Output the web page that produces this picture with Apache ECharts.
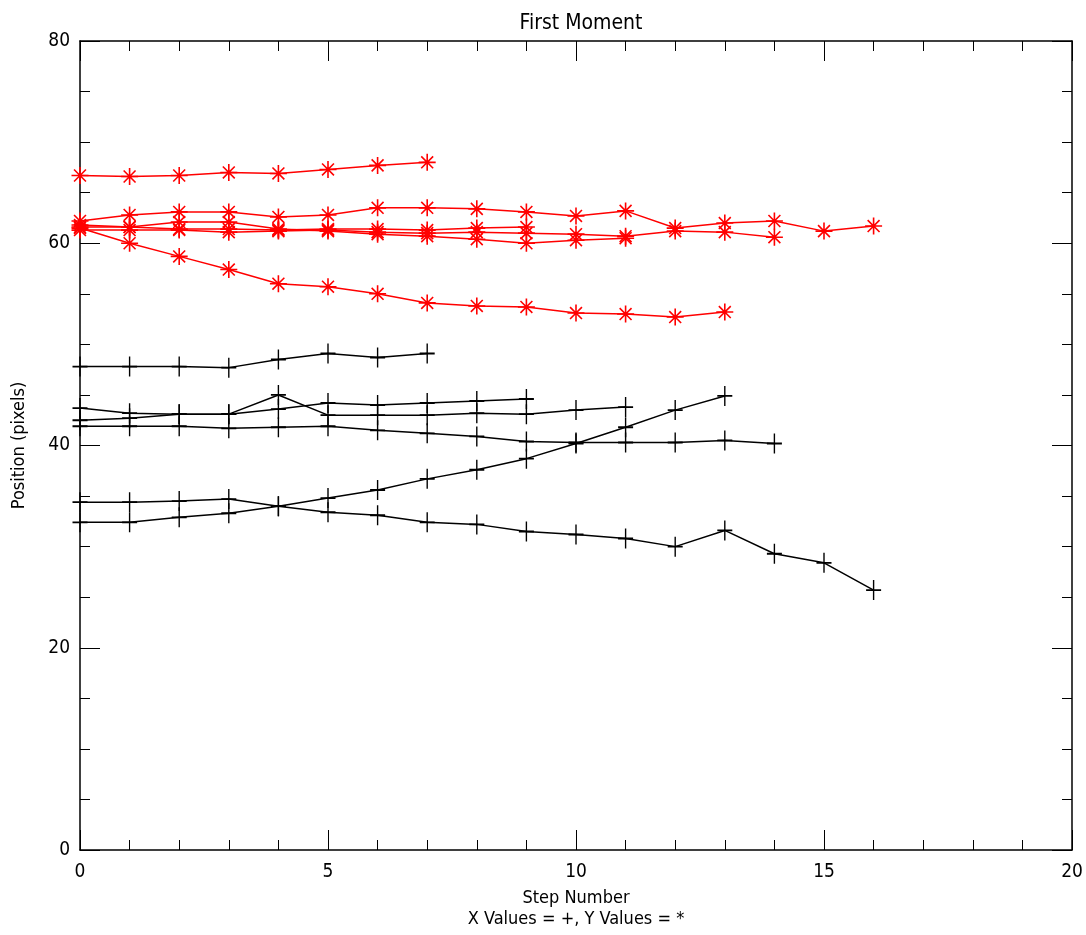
<!DOCTYPE html>
<html>
<head>
<meta charset="utf-8">
<script src="https://cdn.jsdelivr.net/npm/echarts@6/dist/echarts.min.js"></script>
<style>
html,body{margin:0;padding:0;background:#fff;}
#chart{width:1086px;height:935px;}
</style>
</head>
<body>
<div id="chart"></div>
<script>
// X values (black, "+") — index = step number
const xVals7  = [47.8, 47.8, 47.8, 47.7, 48.5, 49.1, 48.7, 49.1];
const xVals9  = [42.5, 42.7, 43.1, 43.1, 43.6, 44.2, 44.0, 44.2, 44.4, 44.6];
const xVals11 = [43.7, 43.2, 43.1, 43.1, 45.0, 43.0, 43.0, 43.0, 43.2, 43.1, 43.5, 43.8];
const xVals13 = [32.4, 32.4, 32.9, 33.3, 34.0, 34.8, 35.6, 36.7, 37.6, 38.7, 40.2, 41.8, 43.5, 44.9];
const xVals14 = [41.9, 41.9, 41.9, 41.7, 41.8, 41.9, 41.5, 41.2, 40.9, 40.4, 40.3, 40.3, 40.3, 40.5, 40.2];
const xVals16 = [34.4, 34.4, 34.5, 34.7, 34.0, 33.4, 33.1, 32.4, 32.2, 31.5, 31.2, 30.8, 30.0, 31.6, 29.3, 28.4, 25.7];

// Y values (red, "*")
const yVals7  = [66.7, 66.6, 66.7, 67.0, 66.9, 67.3, 67.7, 68.0];
const yVals9  = [61.6, 61.6, 61.4, 61.4, 61.3, 61.4, 61.4, 61.3, 61.5, 61.6];
const yVals11 = [61.8, 61.6, 62.1, 62.1, 61.4, 61.2, 60.9, 60.7, 60.4, 60.0, 60.3, 60.5];
const yVals13 = [61.5, 60.0, 58.7, 57.4, 56.0, 55.7, 55.0, 54.1, 53.8, 53.7, 53.1, 53.0, 52.7, 53.2];
const yVals14 = [61.3, 61.3, 61.3, 61.1, 61.2, 61.3, 61.1, 61.0, 61.1, 61.0, 60.9, 60.7, 61.2, 61.1, 60.6];
const yVals16 = [62.2, 62.8, 63.1, 63.1, 62.6, 62.8, 63.5, 63.5, 63.4, 63.1, 62.7, 63.2, 61.5, 62.0, 62.2, 61.2, 61.7];

const xSeriesList = [xVals7, xVals9, xVals11, xVals13, xVals14, xVals16];
const ySeriesList = [yVals7, yVals9, yVals11, yVals13, yVals14, yVals16];

const titleText = 'First Moment';
const xName = 'Step Number';
const xSub = 'X Values = +, Y Values = *';
const yName = 'Position (pixels)';

const FONT = "'DejaVu Sans Condensed', 'Liberation Sans Narrow', 'Liberation Sans', sans-serif";
const plusPath = 'path://M0,-1L0,1M-1,0L1,0';
const starPath = 'path://M0,-1L0,1M-1,0L1,0M-0.7,-0.7L0.7,0.7M-0.7,0.7L0.7,-0.7';

function toPairs(arr){ return arr.map((v,i)=>[i,v]); }

const series = [];
xSeriesList.forEach(arr=>{
  series.push({
    type:'line', data: toPairs(arr), symbol: plusPath, symbolSize:[15,20],
    lineStyle:{color:'#000', width:1.5},
    itemStyle:{color:'#000', borderColor:'#000', borderWidth:1.6},
    animation:false, z:2
  });
});
ySeriesList.forEach(arr=>{
  series.push({
    type:'line', data: toPairs(arr), symbol: starPath, symbolSize:[17,17],
    lineStyle:{color:'#ff0000', width:1.5},
    itemStyle:{color:'#ff0000', borderColor:'#ff0000', borderWidth:1.6},
    animation:false, z:3
  });
});

const axisLineStyle = {show:true, onZero:false, lineStyle:{color:'#000', width:1.5}};
const majorTick = {show:true, inside:true, length:20, lineStyle:{color:'#000', width:1}};
const chart = echarts.init(document.getElementById('chart'));
chart.setOption({
  backgroundColor:'#fff',
  animation:false,
  title:{text:titleText, left:576, top:8, textAlign:'center',
    textStyle:{fontFamily:FONT, fontWeight:'normal', fontSize:21, color:'#000'}},
  grid:{left:80, right:14, top:41, bottom:85},
  xAxis:[{
    type:'value', min:0, max:20, interval:5, position:'bottom',
    axisLine:axisLineStyle, axisTick:majorTick,
    minorTick:{show:true, splitNumber:5, length:10, lineStyle:{color:'#000', width:1}},
    splitLine:{show:false}, minorSplitLine:{show:false},
    axisLabel:{fontFamily:FONT, fontSize:19, color:'#000', margin:13},
    name: xName + '\n' + xSub, nameLocation:'middle', nameGap:38,
    nameTextStyle:{fontFamily:FONT, fontSize:18, color:'#000', lineHeight:21}
  },{
    type:'value', min:0, max:20, interval:5, position:'top',
    axisLine:axisLineStyle, axisTick:majorTick,
    minorTick:{show:true, splitNumber:5, length:10, lineStyle:{color:'#000', width:1}},
    splitLine:{show:false}, axisLabel:{show:false}
  }],
  yAxis:[{
    type:'value', min:0, max:80, interval:20, position:'left',
    axisLine:axisLineStyle, axisTick:majorTick,
    minorTick:{show:true, splitNumber:4, length:10, lineStyle:{color:'#000', width:1}},
    splitLine:{show:false}, minorSplitLine:{show:false},
    axisLabel:{fontFamily:FONT, fontSize:19, color:'#000', margin:10},
    name:yName, nameLocation:'middle', nameGap:52, nameRotate:90,
    nameTextStyle:{fontFamily:FONT, fontSize:18, color:'#000'}
  },{
    type:'value', min:0, max:80, interval:20, position:'right',
    axisLine:axisLineStyle, axisTick:majorTick,
    minorTick:{show:true, splitNumber:4, length:10, lineStyle:{color:'#000', width:1}},
    splitLine:{show:false}, axisLabel:{show:false}
  }],
  series: series
});
</script>
</body>
</html>
